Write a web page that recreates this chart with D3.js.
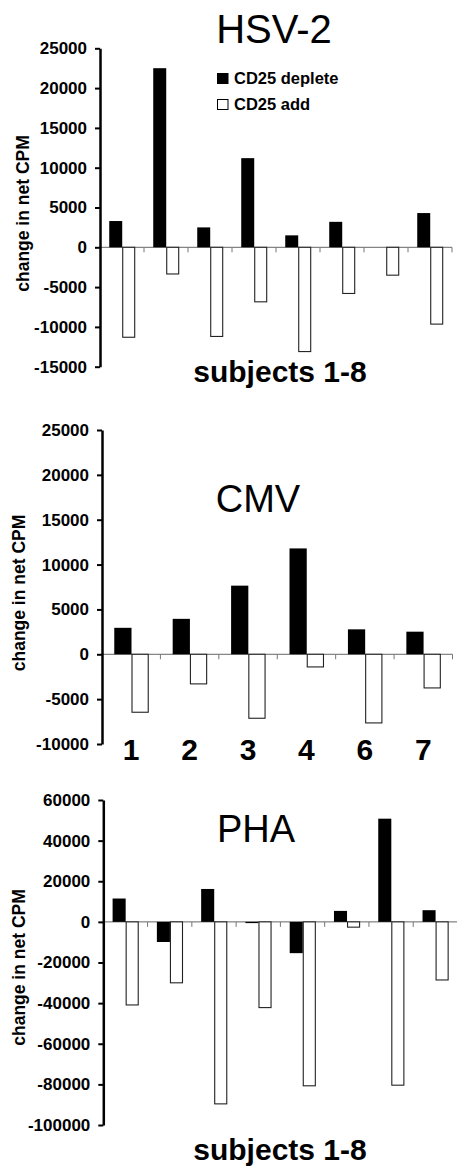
<!DOCTYPE html>
<html>
<head>
<meta charset="utf-8">
<script src="https://cdn.jsdelivr.net/npm/d3@7"></script>
<style>
    body { margin: 0; background: #fff; }
    svg { display: block; }
    text { font-family: "Liberation Sans", Arial, Helvetica, sans-serif; fill: #000; }
</style>
</head>
<body>
<svg id="chart" width="457" height="1167"></svg>
<script>
// data
const seriesNames = ['CD25 deplete', 'CD25 add'];

const hsvSubjects = ['1', '2', '3', '4', '5', '6', '7', '8'];
const hsvDeplete = [3300, 22500, 2500, 11200, 1500, 3200, 0, 4300];
const hsvAdd = [-11300, -3350, -11200, -6850, -13100, -5800, -3500, -9650];
const hsvTicks = [25000, 20000, 15000, 10000, 5000, 0, -5000, -10000, -15000];

const cmvSubjects = ['1', '2', '3', '4', '6', '7'];
const cmvDeplete = [2950, 3950, 7650, 11800, 2780, 2520];
const cmvAdd = [-6460, -3300, -7130, -1410, -7650, -3750];
const cmvTicks = [25000, 20000, 15000, 10000, 5000, 0, -5000, -10000];

const phaSubjects = ['1', '2', '3', '4', '5', '6', '7', '8'];
const phaDeplete = [11500, -9900, 16200, -600, -15400, 5400, 50800, 5750];
const phaAdd = [-40900, -30000, -89600, -42200, -80700, -2600, -80400, -28600];
const phaTicks = [60000, 40000, 20000, 0, -20000, -40000, -60000, -80000, -100000];

const svg = d3.select('#chart');

function drawPanel(p) {
    const g = svg.append('g');

    const y = d3.scaleLinear()
        .domain([p.ticks[p.ticks.length - 1], p.ticks[0]])
        .range([p.bottom, p.top]);

    const x = d3.scaleBand()
        .domain(p.subjects)
        .range([p.left, p.right]);

    const x1 = d3.scaleBand()
        .domain(seriesNames)
        .range([x.bandwidth() * 0.21, x.bandwidth() * 0.8]);

    const rows = p.subjects.map((s, i) => ({ subject: s, deplete: p.deplete[i], add: p.add[i] }));

    // zero line with small ticks between subjects
    g.append('line')
        .attr('x1', p.left).attr('x2', p.right)
        .attr('y1', y(0)).attr('y2', y(0))
        .attr('stroke', '#666').attr('stroke-width', 1);

    g.selectAll('.xtick')
        .data(p.subjects)
        .enter()
        .append('line')
        .attr('class', 'xtick')
        .attr('x1', d => x(d) + x.bandwidth())
        .attr('x2', d => x(d) + x.bandwidth())
        .attr('y1', y(0))
        .attr('y2', y(0) + 5)
        .attr('stroke', '#777').attr('stroke-width', 1);

    const bars = [];
    rows.forEach(r => {
        bars.push({ subject: r.subject, key: seriesNames[0], value: r.deplete });
        bars.push({ subject: r.subject, key: seriesNames[1], value: r.add });
    });

    g.selectAll('.bar')
        .data(bars.filter(b => b.value !== 0))
        .enter()
        .append('rect')
        .attr('class', 'bar')
        .attr('x', d => x(d.subject) + x1(d.key) + (d.key === seriesNames[1] ? 0.5 : 0))
        .attr('width', d => x1.bandwidth() - (d.key === seriesNames[1] ? 1 : 0))
        .attr('y', d => y(Math.max(0, d.value)))
        .attr('height', d => Math.abs(y(d.value) - y(0)))
        .attr('fill', d => d.key === seriesNames[0] ? '#000' : '#fff')
        .attr('stroke', d => d.key === seriesNames[0] ? 'none' : '#222')
        .attr('stroke-width', 1.1);

    // y axis
    const yAxis = g.append('g')
        .attr('transform', `translate(${p.left},0)`)
        .call(d3.axisLeft(y)
            .tickValues(p.ticks)
            .tickSize(5)
            .tickSizeOuter(0)
            .tickPadding(8)
            .tickFormat(d => String(d)));

    yAxis.select('.domain').attr('stroke', '#000').attr('stroke-width', 2.5);
    yAxis.selectAll('.tick line').attr('stroke', '#000').attr('stroke-width', 2);
    yAxis.selectAll('.tick text')
        .style('font-family', '"Liberation Sans", Arial, sans-serif')
        .style('font-size', '17px')
        .style('font-weight', 'bold')
        .attr('fill', '#000');

    // y label
    g.append('text')
        .attr('transform', `translate(${p.ylabelX},${p.ylabelY}) rotate(-90)`)
        .attr('text-anchor', 'middle')
        .style('font-size', '17.5px')
        .style('font-weight', 'bold')
        .text('change in net CPM');

    // title
    g.append('text')
        .attr('x', p.titleX).attr('y', p.titleY)
        .attr('text-anchor', 'middle')
        .style('font-size', p.titleSize + 'px')
        .text(p.title);

    if (p.xlabel) {
        g.append('text')
            .attr('x', 280).attr('y', p.xlabelY)
            .attr('text-anchor', 'middle')
            .style('font-size', '30px')
            .style('font-weight', 'bold')
            .text(p.xlabel);
    }

    if (p.showCategories) {
        g.selectAll('.cat')
            .data(p.subjects)
            .enter()
            .append('text')
            .attr('class', 'cat')
            .attr('x', d => x(d) + x.bandwidth() / 2)
            .attr('y', p.catY)
            .attr('text-anchor', 'middle')
            .style('font-size', '30px')
            .style('font-weight', 'bold')
            .text(d => d);
    }

    if (p.legend) {
        const lg = g.append('g');
        seriesNames.forEach((name, i) => {
            lg.append('rect')
                .attr('x', 217.5).attr('y', 73.5 + i * 26)
                .attr('width', 10.5).attr('height', 10)
                .attr('fill', i === 0 ? '#000' : '#fff')
                .attr('stroke', '#000').attr('stroke-width', 1);
            lg.append('text')
                .attr('x', 234).attr('y', 84 + i * 26)
                .style('font-size', '16.5px')
                .style('font-weight', 'bold')
                .text(name);
        });
    }
}

drawPanel({
    subjects: hsvSubjects, deplete: hsvDeplete, add: hsvAdd, ticks: hsvTicks,
    left: 100, right: 452, top: 48.3, bottom: 366.7,
    title: 'HSV-2', titleX: 274, titleY: 43, titleSize: 40,
    ylabelX: 28.5, ylabelY: 213.5,
    xlabel: 'subjects 1-8', xlabelY: 382,
    legend: true
});

drawPanel({
    subjects: cmvSubjects, deplete: cmvDeplete, add: cmvAdd, ticks: cmvTicks,
    left: 102, right: 452.5, top: 430, bottom: 744,
    title: 'CMV', titleX: 258, titleY: 511.5, titleSize: 38,
    ylabelX: 24.5, ylabelY: 593,
    showCategories: true, catY: 760
});

drawPanel({
    subjects: phaSubjects, deplete: phaDeplete, add: phaAdd, ticks: phaTicks,
    left: 103.3, right: 457.5, top: 800, bottom: 1125,
    title: 'PHA', titleX: 256, titleY: 841.5, titleSize: 38,
    ylabelX: 24.5, ylabelY: 967.5,
    xlabel: 'subjects 1-8', xlabelY: 1160
});
</script>
</body>
</html>
